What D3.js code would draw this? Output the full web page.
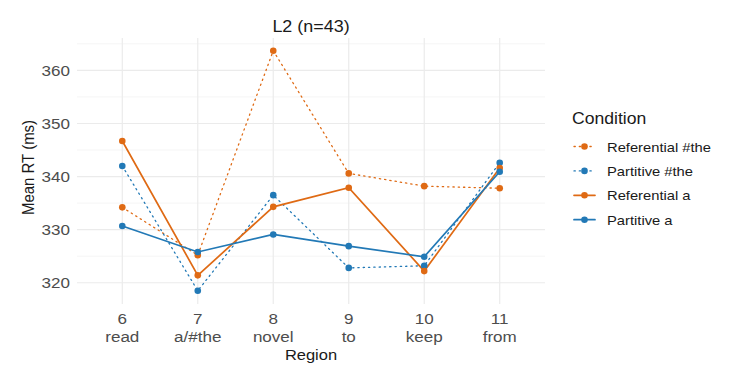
<!DOCTYPE html>
<html>
<head>
<meta charset="utf-8">
<script src="https://cdn.jsdelivr.net/npm/d3@7"></script>
<style>
  body { margin: 0; background: #fff; }
  text { font-family: "Liberation Sans", Arial, sans-serif; }
</style>
</head>
<body>
<div id="chart"></div>
<script>
const regions = ["6", "7", "8", "9", "10", "11"];
const words = ["read", "a/#the", "novel", "to", "keep", "from"];
const yTicks = [320, 330, 340, 350, 360];

const conditions = ["Referential #the", "Partitive #the", "Referential a", "Partitive a"];
const referentialThe = [334.2, 325.2, 363.7, 340.6, 338.2, 337.8];
const partitiveThe = [342.0, 318.5, 336.5, 322.8, 323.2, 342.6];
const referentialA = [346.7, 321.4, 334.3, 337.9, 322.2, 341.6];
const partitiveA = [330.7, 325.8, 329.1, 326.9, 324.9, 340.9];

const seriesValues = [referentialThe, partitiveThe, referentialA, partitiveA];
const seriesColor = ["#df6a14", "#2279b6", "#df6a14", "#2279b6"];
const seriesDotted = [true, true, false, false];

const size = { width: 729, height: 365 };
const panel = { left: 77, right: 545, top: 38, bottom: 304 };
const stretch = 1.1; // the source picture is a little wider than tall

const svg = d3.select("#chart").append("svg")
    .attr("width", size.width)
    .attr("height", size.height);

function label(parent, x, y, str, fontSize, color, anchor, rotate) {
    return parent.append("text")
        .attr("transform", "translate(" + x + "," + y + ") scale(" + stretch + ",1)" + (rotate ? " rotate(" + rotate + ")" : ""))
        .attr("text-anchor", anchor || "start")
        .attr("font-size", fontSize)
        .attr("fill", color)
        .text(str);
}

const xScale = d3.scalePoint()
    .domain(regions)
    .range([panel.left, panel.right])
    .padding(0.6);

const yScale = d3.scaleLinear()
    .domain([316.0, 366.1])
    .range([panel.bottom, panel.top]);

// grid: minor then major
const minor = d3.range(315, 370, 10);
svg.append("g").selectAll("line")
    .data(minor.filter(v => v > 316 && v < 366.1))
    .join("line")
    .attr("x1", panel.left).attr("x2", panel.right)
    .attr("y1", d => yScale(d)).attr("y2", d => yScale(d))
    .attr("stroke", "#f2f2f2").attr("stroke-width", 0.8);

svg.append("g").selectAll("line")
    .data(yTicks)
    .join("line")
    .attr("x1", panel.left).attr("x2", panel.right)
    .attr("y1", d => yScale(d)).attr("y2", d => yScale(d))
    .attr("stroke", "#ebebeb").attr("stroke-width", 1.2);

svg.append("g").selectAll("line")
    .data(regions)
    .join("line")
    .attr("x1", d => xScale(d)).attr("x2", d => xScale(d))
    .attr("y1", panel.top).attr("y2", panel.bottom)
    .attr("stroke", "#ebebeb").attr("stroke-width", 1.2);

// y tick labels
const yG = svg.append("g");
yTicks.forEach(v => {
    label(yG, panel.left - 7, yScale(v) + 5.5, String(v), 15.5, "#4d4d4d", "end");
});

// x tick labels: region number and word
const xG = svg.append("g");
regions.forEach((r, i) => {
    label(xG, xScale(r), 323.5, r, 15.5, "#4d4d4d", "middle");
    label(xG, xScale(r), 341.8, words[i], 15.5, "#4d4d4d", "middle");
});

// axis titles and title
label(svg, (panel.left + panel.right) / 2, 359.5, "Region", 15, "#1a1a1a", "middle");
label(svg, 34, 167.5, "Mean RT (ms)", 15, "#1a1a1a", "middle", -90);
label(svg, (panel.left + panel.right) / 2, 32, "L2 (n=43)", 16.3, "#1a1a1a", "middle");

// series
const line = d3.line()
    .x((d, i) => xScale(regions[i]))
    .y(d => yScale(d));

seriesValues.forEach((vals, k) => {
    svg.append("path")
        .datum(vals)
        .attr("fill", "none")
        .attr("stroke", seriesColor[k])
        .attr("stroke-width", seriesDotted[k] ? 1.3 : 1.7)
        .attr("stroke-dasharray", seriesDotted[k] ? "1.3,4" : null)
        .attr("stroke-linecap", "round")
        .attr("d", line);
});

seriesValues.forEach((vals, k) => {
    svg.append("g").selectAll("circle")
        .data(vals)
        .join("circle")
        .attr("cx", (d, i) => xScale(regions[i]))
        .attr("cy", d => yScale(d))
        .attr("r", 3.3)
        .attr("fill", seriesColor[k]);
});

// legend
const legend = svg.append("g").attr("transform", "translate(572,0)");
label(legend, 0, 124, "Condition", 16, "#1a1a1a");

conditions.forEach((c, k) => {
    const y = 146.5 + k * 24.4;
    legend.append("line")
        .attr("x1", 2).attr("x2", 23)
        .attr("y1", y).attr("y2", y)
        .attr("stroke", seriesColor[k])
        .attr("stroke-width", seriesDotted[k] ? 1.3 : 1.7)
        .attr("stroke-dasharray", seriesDotted[k] ? "1.3,4" : null)
        .attr("stroke-linecap", "round");
    legend.append("circle")
        .attr("cx", 12.5).attr("cy", y).attr("r", 3.3)
        .attr("fill", seriesColor[k]);
    label(legend, 35, y + 5, c, 13.4, "#1a1a1a");
});
</script>
</body>
</html>
